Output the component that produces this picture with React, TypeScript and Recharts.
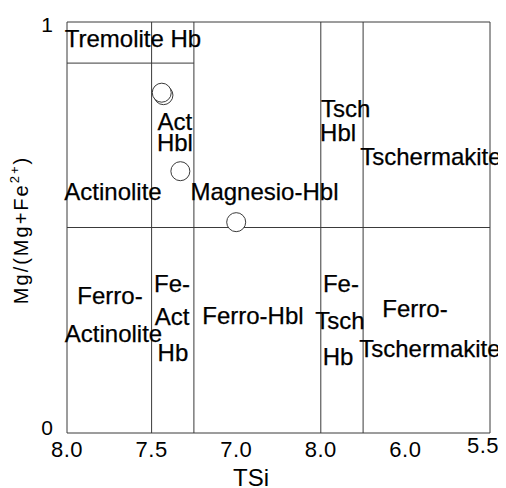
import { ScatterChart, Scatter, XAxis, YAxis, ReferenceLine, ReferenceArea, Customized } from "recharts";

// TSi axis runs from 8.0 (left) to 5.5 (right)
const xTicks = [8.0, 7.5, 7.0, 6.5, 6.0, 5.5];
const xTickLabels = ["8.0", "7.5", "7.0", "8.0", "6.0", "5.5"];
const yTicks = [0, 1];
const yTickLabels = ["0", "1"];

// field boundaries
const siBounds = [7.5, 7.25, 6.5, 6.25];
const mgMid = 0.5;
const tremoliteTop = 0.9;
const tremoliteSiEdge = 7.25;

// analysed amphiboles
const sampleSi = [7.43, 7.44, 7.33, 7.0];
const sampleMg = [0.822, 0.828, 0.637, 0.513];

// field names (centre of each text line)
const fieldNames = [
  "Tremolite Hb", "Act", "Hbl", "Actinolite", "Magnesio-Hbl", "Tsch", "Hbl", "Tschermakite",
  "Ferro-", "Actinolite", "Fe-", "Act", "Hb", "Ferro-Hbl", "Fe-", "Tsch", "Hb", "Ferro-", "Tschermakite",
];
const fieldSi = [
  7.61, 7.362, 7.362, 7.728, 6.833, 6.353, 6.398, 5.849,
  7.746, 7.725, 7.379, 7.379, 7.374, 6.901, 6.381, 6.387, 6.398, 5.943, 5.855,
];
const fieldMg = [
  0.961, 0.759, 0.706, 0.589, 0.589, 0.791, 0.732, 0.672,
  0.336, 0.243, 0.365, 0.285, 0.195, 0.287, 0.365, 0.275, 0.187, 0.304, 0.207,
];

const samples = sampleSi.map((x, i) => ({ x, y: sampleMg[i] }));
const fields = fieldNames.map((name, i) => ({ name, x: fieldSi[i], y: fieldMg[i] }));

const FONT = "'Liberation Sans', Arial, sans-serif";
const LINE = "#3a3a3a";

function XTick({ x, y, index }: any) {
  const last = index === xTicks.length - 1;
  return (
    <text
      x={last ? x - 7 : x}
      y={last ? y + 20 : y + 24}
      textAnchor="middle"
      fontFamily={FONT}
      fontSize={22}
      letterSpacing={0.5}
      fill="#000"
    >
      {xTickLabels[index]}
    </text>
  );
}

function YTick({ y, index }: any) {
  return (
    <text x={45} y={index === 0 ? y + 2 : y + 10} textAnchor="end" fontFamily={FONT} fontSize={21} fill="#000">
      {yTickLabels[index]}
    </text>
  );
}

function FieldLabel({ cx, cy, payload }: any) {
  return (
    <text
      x={cx}
      y={cy}
      dy="0.36em"
      textAnchor="middle"
      fontFamily={FONT}
      fontSize={24}
      fill="#000"
      stroke="#000"
      strokeWidth={0.25}
    >
      {payload.name}
    </text>
  );
}

function Titles() {
  return (
    <g fontFamily={FONT} fill="#000">
      <text x={243} y={478} textAnchor="middle" fontSize={24}>
        TSi
      </text>
      <text transform="translate(20,222) rotate(-90)" textAnchor="middle" fontSize={20} letterSpacing={2}>
        Mg/(Mg+Fe
        <tspan fontSize={13} dy={-9}>
          2+
        </tspan>
        <tspan dy={9}>)</tspan>
      </text>
    </g>
  );
}

export default function App() {
  return (
    <div style={{ width: 498, height: 490, background: "#fff" }}>
      <ScatterChart width={498} height={490} margin={{ top: 14, right: 16, bottom: 35, left: 0 }}>
        <XAxis
          type="number"
          dataKey="x"
          domain={[5.5, 8]}
          reversed
          ticks={xTicks}
          tick={<XTick />}
          tickSize={0}
          tickMargin={0}
          axisLine={false}
          height={30}
          interval={0}
        />
        <YAxis
          type="number"
          dataKey="y"
          domain={[0, 1]}
          ticks={yTicks}
          tick={<YTick />}
          tickSize={0}
          tickMargin={0}
          axisLine={false}
          width={59}
          interval={0}
        />
        <ReferenceArea x1={8} x2={5.5} y1={0} y2={1} fill="none" stroke={LINE} strokeWidth={1} />
        {siBounds.map((s) => (
          <ReferenceLine key={s} x={s} stroke={LINE} strokeWidth={1} />
        ))}
        <ReferenceLine y={mgMid} stroke={LINE} strokeWidth={1} />
        <ReferenceLine
          segment={[
            { x: 8, y: tremoliteTop },
            { x: tremoliteSiEdge, y: tremoliteTop },
          ]}
          stroke={LINE}
          strokeWidth={1}
        />
        <Scatter data={fields} shape={<FieldLabel />} isAnimationActive={false} />
        <Scatter
          data={samples}
          isAnimationActive={false}
          shape={(p: any) => <circle cx={p.cx} cy={p.cy} r={9.5} fill="#fff" stroke={LINE} strokeWidth={1} />}
        />
        <Customized component={<Titles />} />
      </ScatterChart>
    </div>
  );
}
